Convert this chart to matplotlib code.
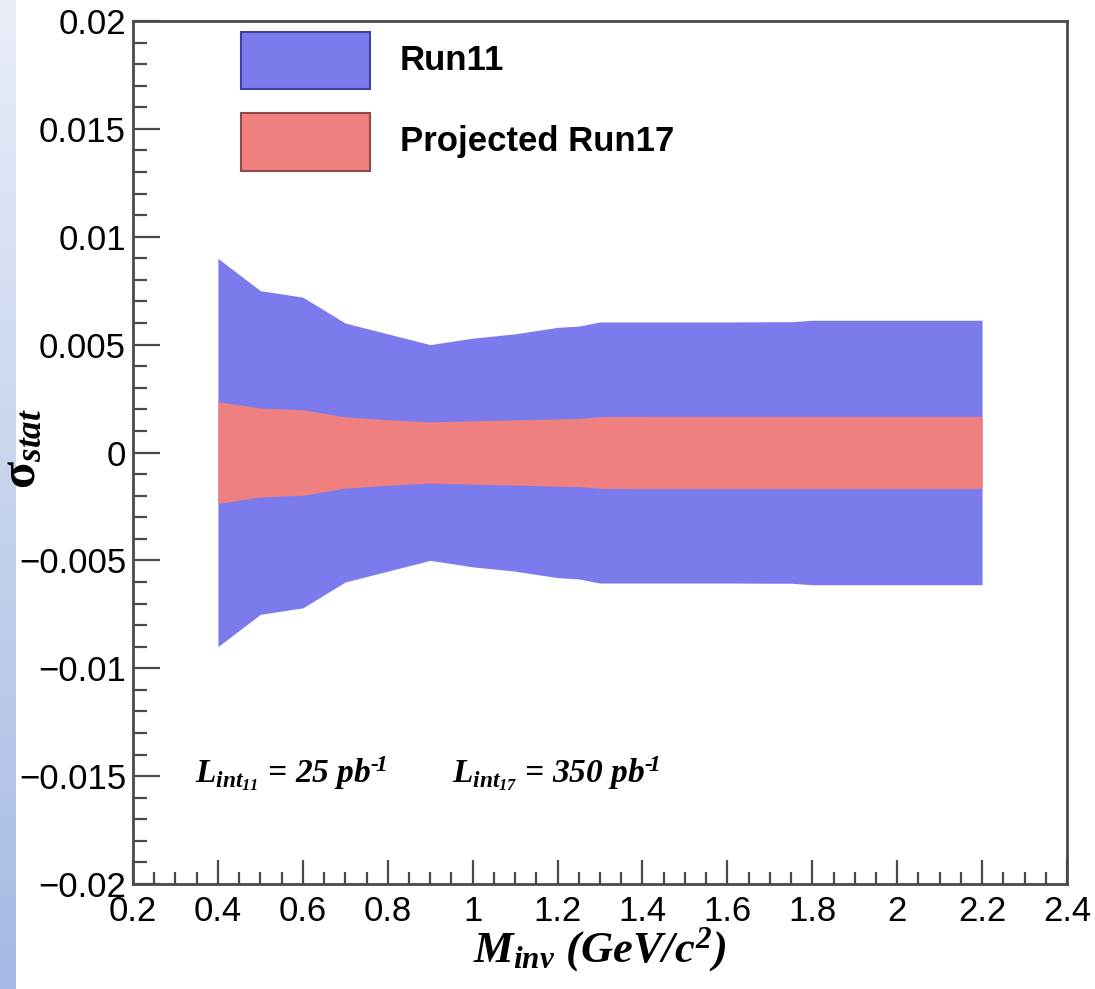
import numpy as np
import matplotlib
matplotlib.use("Agg")
import matplotlib.pyplot as plt
from matplotlib.patches import Rectangle
from matplotlib.ticker import MultipleLocator, FuncFormatter

# ---------------- data ----------------
mass = [0.4, 0.5, 0.6, 0.7, 0.8, 0.9, 1.0, 1.1, 1.2, 1.25, 1.3, 1.4, 1.5, 1.6, 1.7, 1.75,
        1.8, 1.9, 2.0, 2.1, 2.2]
run11_sigma = [0.0090, 0.0075, 0.0072, 0.0060, 0.0055, 0.0050, 0.0053, 0.0055, 0.0058, 0.00586,
               0.00605, 0.00605, 0.00605, 0.00605, 0.00606, 0.00606,
               0.00613, 0.00613, 0.00613, 0.00613, 0.00613]
run17_sigma = [0.00236, 0.00206, 0.00198, 0.00165, 0.00152, 0.00142, 0.00147, 0.00151, 0.00156, 0.00158,
               0.00166, 0.00167, 0.00167, 0.00167, 0.00167, 0.00167,
               0.00167, 0.00167, 0.00167, 0.00167, 0.00167]
series_names = ["Run11", "Projected Run17"]
lumi_labels = ["$L_{int_{11}}$ = 25 pb$^{\u2010\\!1}$", "$L_{int_{17}}$ = 350 pb$^{\u2010\\!1}$"]
xlabel = r"$M_{inv}\ (GeV/c^{2})$"
ylabel = r"$\mathsf{\sigma}_{stat}$"
xticks = [0.2, 0.4, 0.6, 0.8, 1.0, 1.2, 1.4, 1.6, 1.8, 2.0, 2.2, 2.4]
yticks = [-0.02, -0.015, -0.01, -0.005, 0, 0.005, 0.01, 0.015, 0.02]

# ---------------- style ----------------
plt.rcParams["font.family"] = ["Liberation Sans", "DejaVu Sans"]
plt.rcParams["mathtext.fontset"] = "custom"
plt.rcParams["mathtext.rm"] = "Liberation Serif:bold:italic"
plt.rcParams["mathtext.it"] = "Liberation Serif:bold:italic"
plt.rcParams["mathtext.bf"] = "Liberation Serif:bold:italic"
plt.rcParams["mathtext.sf"] = "Liberation Serif:bold"

blue = "#7b7bee"
red = "#f08080"
frame_c = "#4a4a4a"

W, H = 1095, 989
fig = plt.figure(figsize=(W / 100, H / 100), dpi=100)

# left decorative gradient strip
sax = fig.add_axes([0, 0, 16 / W, 1])
grad = np.linspace(0, 1, 256).reshape(-1, 1)
top_c = np.array([233, 237, 247]) / 255
bot_c = np.array([165, 186, 228]) / 255
img = top_c[None, None, :] * (1 - grad[..., None]) + bot_c[None, None, :] * grad[..., None]
sax.imshow(img, aspect="auto", extent=[0, 1, 0, 1])
sax.axis("off")

L, R, T, B = 133, 1067, 21, 884
ax = fig.add_axes([L / W, (H - B) / H, (R - L) / W, (B - T) / H])

x = np.array(mass)
s11 = np.array(run11_sigma)
s17 = np.array(run17_sigma)
ax.fill_between(x, -s11, s11, color=blue, lw=0, zorder=2)
ax.fill_between(x, -s17, s17, color=red, lw=0, zorder=3)

ax.set_xlim(0.2, 2.4)
ax.set_ylim(-0.02, 0.02)
ax.set_xticks(xticks)
ax.set_yticks(yticks)
ax.xaxis.set_minor_locator(MultipleLocator(0.05))
ax.yaxis.set_minor_locator(MultipleLocator(0.001))

def fmt(v, pos):
    if abs(v) < 1e-12:
        return "0"
    s = ("%g" % v)
    return s.replace("-", "\u2212")

ax.xaxis.set_major_formatter(FuncFormatter(fmt))
ax.yaxis.set_major_formatter(FuncFormatter(fmt))

ax.tick_params(axis="both", which="both", direction="in", color=frame_c, width=1.6,
               top=False, right=False, labelsize=25, labelcolor="black")
ax.tick_params(axis="y", which="major", length=19.5, pad=5)
ax.tick_params(axis="y", which="minor", length=10)
ax.tick_params(axis="x", which="major", length=17.3, pad=8)
ax.tick_params(axis="x", which="minor", length=8.6)
for sp in ax.spines.values():
    sp.set_color(frame_c)
    sp.set_linewidth(2)

# legend (manual, ROOT style)
aw, ah = R - L, B - T
def axx(px):
    return (px - L) / aw
def axy(py):
    return (B - py) / ah
boxes = [(32, 89, blue, "#4040a0"), (113, 171, red, "#904848")]
for (yt, yb, fc, ec), name in zip(boxes, series_names):
    ax.add_patch(Rectangle((axx(241), axy(yb)), axx(370) - axx(241), axy(yt) - axy(yb),
                           transform=ax.transAxes, facecolor=fc, edgecolor=ec, lw=1.5,
                           zorder=5, clip_on=False))
    ax.text(axx(400), (axy(yt) + axy(yb)) / 2, name, transform=ax.transAxes,
            fontsize=25, fontweight="bold", va="center", ha="left", zorder=6)

# luminosity annotations
lumi_font = dict(family="Liberation Serif", weight="bold", style="italic")
ax.text(axx(195), axy(783), lumi_labels[0], transform=ax.transAxes, fontsize=24,
        ha="left", va="baseline", **lumi_font)
ax.text(axx(452), axy(783), lumi_labels[1], transform=ax.transAxes, fontsize=24,
        ha="left", va="baseline", **lumi_font)

# axis titles
ax.set_xlabel(xlabel, fontsize=32, va="baseline")
ax.xaxis.set_label_coords(0.5, axy(962))
ax.set_ylabel(ylabel, fontsize=36, va="center", rotation=90)
ax.yaxis.set_label_coords(axx(22), axy(448))

fig.savefig("out.png", dpi=100)
